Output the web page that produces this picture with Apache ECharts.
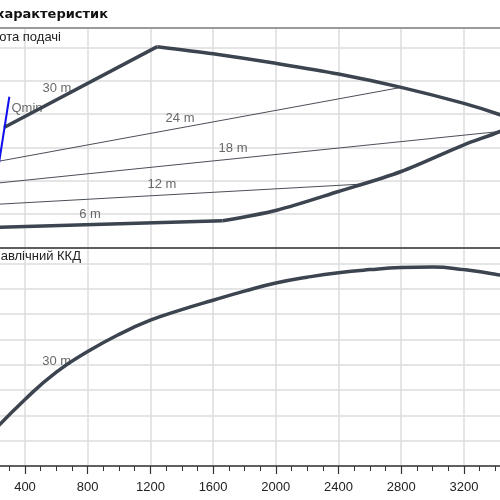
<!DOCTYPE html>
<html><head><meta charset="utf-8">
<script src="https://cdn.jsdelivr.net/npm/echarts@6/dist/echarts.min.js"></script>
<style>html,body{margin:0;padding:0;background:#fff}#c{width:500px;height:500px}</style>
</head><body><div id="c"></div>
<script>
// ---- texts ----
const titleText = 'характеристик';
const headPanelLabel = 'ота подачі';
const effPanelLabel = 'авлічний ККД';

// ---- axis settings (Q in m3/h, H in m, efficiency in %) ----
const qMin = 0, qMax = 3600, qStep = 400;
const hMin = 0, hMax = 33, hStep = 5;
const eMin = 0, eMax = 86.3, eStep = 10;

// ---- head panel data [Q, H] ----
const envelopeRise = [[266, 18.0], [1244, 30.1]];
const envelopeTop = [[1244, 30.1], [1600, 29.04], [2000, 27.6], [2400, 26.0], [2800, 24.0], [3200, 21.6], [3431, 19.9], [3540, 18.8]];
const envelopeLow = [[3540, 18.8], [3431, 17.4], [3200, 15.4], [2800, 11.4], [2400, 8.4], [2006, 5.6], [1661, 4.03]];
const envelopeBase = [[1661, 4.03], [170, 3.0]];
const line24 = [[236, 12.95], [2800, 24.0]];
const line18 = [[214, 9.64], [3431, 17.4]];
const line12 = [[192, 6.45], [2537, 9.5]];
const qminLine = [[170, 3.0], [300, 22.6]];

const headLabelNames = ['30 m', '24 m', '18 m', '12 m', '6 m', 'Qmin'];
const headLabelQ = [604, 1389, 1727, 1274, 815, 413];
const headLabelH = [23.9, 19.4, 14.8, 9.4, 5.0, 20.9];

// ---- efficiency panel data [Q, eta] ----
const effQ = [200, 400, 600, 800, 1000, 1200, 1400, 1600, 1800, 2000, 2200, 2400, 2600, 2800, 3000, 3200, 3400, 3540];
const effEta = [13.8, 26.3, 37.1, 45.2, 52.0, 57.6, 61.8, 65.5, 69.1, 72.3, 74.6, 76.4, 77.6, 78.4, 78.6, 77.6, 75.8, 73.8];
const effLabelNames = ['30 m'];
const effLabelQ = [602];
const effLabelE = [41.2];

const thick = '#3c4450';
const thin = '#4a4f57';
const gridCol = '#dcdcdc';
const font = 'Liberation Sans, Arial, sans-serif';

const chart = echarts.init(document.getElementById('c'), null, {renderer: 'canvas'});

const gLeft = -37.7, gWidth = 564.3;

function lineSeries(data, color, width, smooth, xi, z) {
  return {type: 'line', data: data, xAxisIndex: xi, yAxisIndex: xi, showSymbol: false, symbol: 'none',
    smooth: smooth,
    lineStyle: {color: color, width: width}, z: z || 3, silent: true, animation: false, clip: true};
}
function labelSeries(names, qs, vs, xi, color) {
  return {type: 'scatter', xAxisIndex: xi, yAxisIndex: xi, symbolSize: 0, z: 1, silent: true, animation: false,
    data: names.map((n, i) => ({value: [qs[i], vs[i]], name: n})),
    label: {show: true, position: 'inside', formatter: p => p.name, color: color, fontSize: 13, fontFamily: font}};
}

const option = {
  animation: false,
  backgroundColor: '#fff',
  grid: [
    {left: gLeft, width: gWidth, top: 27.3, height: 220.3, containLabel: false, outerBoundsMode: 'none'},
    {left: gLeft, width: gWidth, top: 247.6, height: 218.4, containLabel: false, outerBoundsMode: 'none'}
  ],
  xAxis: [
    {type: 'value', gridIndex: 0, min: qMin, max: qMax, interval: qStep,
      axisLine: {show: true, onZero: false, lineStyle: {color: '#333', width: 1.5}},
      axisTick: {show: false}, axisLabel: {show: false},
      splitLine: {show: true, lineStyle: {color: gridCol, width: 1.5}}},
    {type: 'value', gridIndex: 1, min: qMin, max: qMax, interval: qStep,
      axisLine: {show: true, onZero: false, lineStyle: {color: '#333', width: 1.5}},
      axisTick: {show: true, length: 8, lineStyle: {color: '#333', width: 1.2}},
      minorTick: {show: true, splitNumber: 4, length: 5, lineStyle: {color: '#333', width: 1}},
      axisLabel: {show: true, color: '#222', fontSize: 13, fontFamily: font, margin: 15, formatter: v => String(v)},
      splitLine: {show: true, lineStyle: {color: gridCol, width: 1.5}}},
    {type: 'value', gridIndex: 0, position: 'top', min: qMin, max: qMax,
      axisLine: {show: true, onZero: false, lineStyle: {color: '#9a9a9a', width: 2}},
      axisTick: {show: false}, axisLabel: {show: false}, splitLine: {show: false}}
  ],
  yAxis: [
    {type: 'value', gridIndex: 0, min: hMin, max: hMax, interval: hStep,
      axisLine: {show: false}, axisTick: {show: false}, axisLabel: {show: false},
      splitLine: {show: true, lineStyle: {color: gridCol, width: 1.5}}},
    {type: 'value', gridIndex: 1, min: eMin, max: eMax, interval: eStep,
      axisLine: {show: false}, axisTick: {show: false}, axisLabel: {show: false},
      splitLine: {show: true, lineStyle: {color: gridCol, width: 1.5}}}
  ],
  graphic: [
    {type: 'text', x: 108, y: 15, z: 10, style: {text: titleText, textAlign: 'right', textVerticalAlign: 'middle', font: 'bold 13px DejaVu Sans, Verdana, sans-serif', fill: '#111'}},
    {type: 'text', x: 61, y: 37, z: 10, style: {text: headPanelLabel, textAlign: 'right', textVerticalAlign: 'middle', font: '13px Liberation Sans, Arial, sans-serif', fill: '#222'}},
    {type: 'text', x: 81, y: 256, z: 10, style: {text: effPanelLabel, textAlign: 'right', textVerticalAlign: 'middle', font: '13px Liberation Sans, Arial, sans-serif', fill: '#222'}}
  ],
  series: [
    labelSeries(headLabelNames, headLabelQ, headLabelH, 0, '#444'),
    labelSeries(effLabelNames, effLabelQ, effLabelE, 1, '#444'),
    lineSeries(line24, thin, 1, false, 0, 2),
    lineSeries(line18, thin, 1, false, 0, 2),
    lineSeries(line12, thin, 1, false, 0, 2),
    lineSeries(envelopeRise, thick, 3.5, false, 0),
    lineSeries(envelopeTop, thick, 3.5, 0.3, 0),
    lineSeries(envelopeLow, thick, 3.5, 0.3, 0),
    lineSeries(envelopeBase, thick, 3.5, false, 0),
    lineSeries(qminLine, '#1010ee', 2, false, 0, 4),
    lineSeries(effQ.map((q, i) => [q, effEta[i]]), thick, 3.5, 0.5, 1)
  ]
};
chart.setOption(option);
</script></body></html>
